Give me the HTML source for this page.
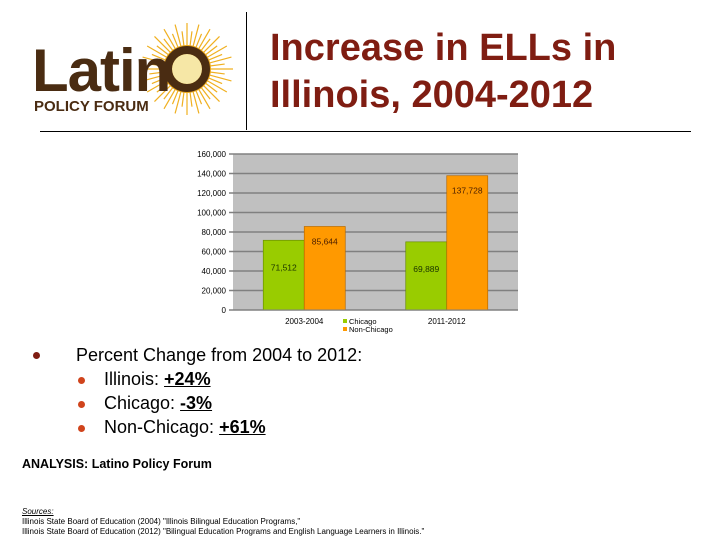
<!DOCTYPE html>
<html><head><meta charset="utf-8"><style>
body{margin:0;width:720px;height:540px;background:#fff;position:relative;overflow:hidden;font-family:"Liberation Sans",Arial,sans-serif}
.a{position:absolute;white-space:nowrap}
.t{font-size:38px;font-weight:bold;color:#7f1d12;left:270px;line-height:48px}
.b{font-size:18px;color:#000;line-height:20px}
.dot{position:absolute;border-radius:50%}
u{text-decoration:underline;font-weight:bold}
.s{font-size:8px;color:#000}
</style></head><body>
<svg class="a" style="left:0;top:0" width="720" height="140">
  <g>
    <g stroke="#f0b020" stroke-width="1.2" id="rays"></g>
    <circle cx="187" cy="69" r="24" fill="#e8a418"/>
    <circle cx="187" cy="69" r="15" fill="#f6e7a6"/>
    <text x="32" y="91" font-family="Liberation Sans" font-size="60" fill="#4a2c12" font-weight="bold" letter-spacing="-1">Latin</text>
    <circle cx="187" cy="69" r="19" fill="none" stroke="#4a2c12" stroke-width="8"/>
    <text x="34" y="111" font-family="Liberation Sans" font-size="15" fill="#4a2c12" font-weight="bold">POLICY FORUM</text>
  </g>
  <line x1="246.5" y1="12" x2="246.5" y2="130" stroke="#000" stroke-width="1"/>
  <line x1="40" y1="131.5" x2="691" y2="131.5" stroke="#000" stroke-width="1"/>
</svg>
<div class="a t" style="top:24px">Increase in ELLs in</div>
<div class="a t" style="top:71px">Illinois, 2004-2012</div>

<svg class="a" style="left:0;top:140px" width="720" height="200" id="chart"></svg>

<div class="dot" style="left:33px;top:352px;width:7px;height:7px;background:#7f1d12"></div>
<div class="a b" style="left:76px;top:345px">Percent Change from 2004 to 2012:</div>
<div class="dot" style="left:78px;top:377px;width:7px;height:7px;background:#d0441c"></div>
<div class="a b" style="left:104px;top:369px">Illinois: <u>+24%</u></div>
<div class="dot" style="left:78px;top:401px;width:7px;height:7px;background:#d0441c"></div>
<div class="a b" style="left:104px;top:393px">Chicago: <u>-3%</u></div>
<div class="dot" style="left:78px;top:425px;width:7px;height:7px;background:#d0441c"></div>
<div class="a b" style="left:104px;top:417px">Non-Chicago: <u>+61%</u></div>

<div class="a" style="left:22px;top:457px;font-size:12.5px;font-weight:bold">ANALYSIS: Latino Policy Forum</div>
<div class="a s" style="left:22px;top:507px;text-decoration:underline;font-style:italic">Sources:</div>
<div class="a s" style="left:22px;top:517px">Illinois State Board of Education (2004) "Illinois Bilingual Education Programs,"</div>
<div class="a s" style="left:22px;top:527px">Illinois State Board of Education (2012) "Bilingual Education Programs and English Language Learners in Illinois."</div>

<script>
const categories=["2003-2004","2011-2012"];
const chicago=[71512,69889];
const nonChicago=[85644,137728];
const chicagoLabels=["71,512","69,889"];
const nonChicagoLabels=["85,644","137,728"];
const ticks=[0,20000,40000,60000,80000,100000,120000,140000,160000];
const tickLabels=["0","20,000","40,000","60,000","80,000","100,000","120,000","140,000","160,000"];

const NS="http://www.w3.org/2000/svg";
const svg=document.getElementById('chart');
const OY=140;
const y0=310-OY, yTop=154-OY, xL=233, xR=518;
const y=v=>y0-(v/160000)*(y0-yTop);
const groupW=(xR-xL)/categories.length;
const barW=41;
function mk(t,a){const e=document.createElementNS(NS,t);for(const k in a)e.setAttribute(k,a[k]);svg.appendChild(e);return e;}
let bg=mk('rect',{x:xL,y:yTop,width:xR-xL,height:y0-yTop,fill:'#c0c0c0'});


ticks.forEach((v,i)=>{
  const l=mk('line',{x1:xL-4,x2:xR,y1:y(v),y2:y(v),stroke:'#808080','stroke-width':1.5});
  
  
  const t=mk('text',{x:226,y:y(v)+3,'text-anchor':'end','font-size':8,'font-family':'Liberation Sans',fill:'#000'});
  t.textContent=tickLabels[i];
  
  
});
categories.forEach((c,i)=>{
  const cx=xL+groupW*(i+0.5);
  const b1=mk('rect',{x:cx-barW,y:y(chicago[i]),width:barW,height:y0-y(chicago[i]),fill:'#99cc00',stroke:'#6a8f00','stroke-width':0.7});
  
  
  const b2=mk('rect',{x:cx,y:y(nonChicago[i]),width:barW,height:y0-y(nonChicago[i]),fill:'#ff9900',stroke:'#b86a00','stroke-width':0.7});
  
  
  const l1=mk('text',{x:cx-barW/2,y:y(chicago[i])+30,'text-anchor':'middle','font-size':8.5,'font-family':'Liberation Sans',fill:'#1a3300'});
  l1.textContent=chicagoLabels[i];
  
  
  const l2=mk('text',{x:cx+barW/2,y:y(nonChicago[i])+18,'text-anchor':'middle','font-size':8.5,'font-family':'Liberation Sans',fill:'#4a1e00'});
  l2.textContent=nonChicagoLabels[i];
  
  
  const xl=mk('text',{x:cx,y:y0+14,'text-anchor':'middle','font-size':8,'font-family':'Liberation Sans',fill:'#000'});
  xl.textContent=c;
  
  
});
const ax=mk('line',{x1:xL,x2:xR,y1:y0,y2:y0,stroke:'#808080'});


[["Chicago","#99cc00",184],["Non-Chicago","#ff9900",192]].forEach(d=>{
  const r=mk('rect',{x:343,y:d[2]-5,width:4,height:4,fill:d[1]});
  
  
  const t=mk('text',{x:349,y:d[2],'font-size':7.5,'font-family':'Liberation Sans',fill:'#000'});
  t.textContent=d[0];
  
  
});
const rays=document.getElementById('rays');
for(let k=0;k<48;k++){const a=k*Math.PI/24;const e=document.createElementNS(NS,'line');
e.setAttribute('x1',187+22*Math.cos(a));e.setAttribute('y1',69+22*Math.sin(a));
e.setAttribute('x2',187+(k%2?38:46)*Math.cos(a));e.setAttribute('y2',69+(k%2?38:46)*Math.sin(a));rays.appendChild(e);}
</script>
</body></html>
